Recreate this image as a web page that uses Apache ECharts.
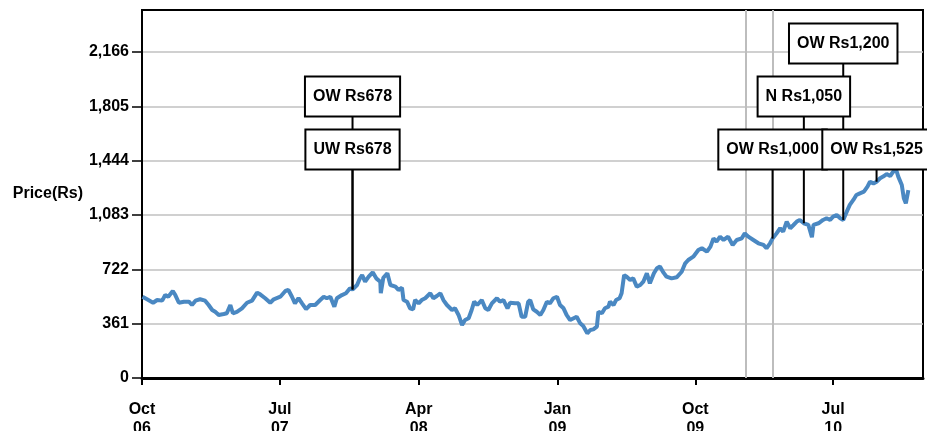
<!DOCTYPE html>
<html><head><meta charset="utf-8">
<script src="https://cdn.jsdelivr.net/npm/echarts@6/dist/echarts.min.js"></script>
<style>html,body{margin:0;padding:0;background:#fff}#c{width:927px;height:431px}</style>
</head><body><div id="c"></div>
<script>
const priceDates = [
'2006-10-02','2006-10-11','2006-10-23','2006-10-31','2006-11-10','2006-11-16','2006-11-22','2006-12-01','2006-12-06','2006-12-13','2006-12-23',
'2007-01-02','2007-01-08','2007-01-15','2007-01-24','2007-02-03','2007-02-10','2007-02-17','2007-02-23','2007-03-02','2007-03-12','2007-03-18','2007-03-25','2007-03-30',
'2007-04-07','2007-04-17','2007-04-27','2007-05-07','2007-05-17','2007-05-23','2007-06-02','2007-06-12','2007-06-19','2007-06-22','2007-07-02','2007-07-12','2007-07-18',
'2007-07-25','2007-07-31','2007-08-07','2007-08-14','2007-08-22','2007-08-30','2007-09-09','2007-09-19','2007-09-26','2007-10-02','2007-10-09','2007-10-17','2007-10-22',
'2007-11-01','2007-11-09','2007-11-17','2007-11-22','2007-12-01','2007-12-06','2007-12-11','2007-12-17','2007-12-24','2008-01-01','2008-01-08','2008-01-16','2008-01-17',
'2008-01-22','2008-01-30','2008-02-05','2008-02-15','2008-02-21','2008-02-28','2008-03-02','2008-03-09','2008-03-15','2008-03-21','2008-03-25','2008-04-01','2008-04-07',
'2008-04-14','2008-04-24','2008-04-30','2008-05-07','2008-05-14','2008-05-20','2008-05-27','2008-06-06','2008-06-12','2008-06-19','2008-06-26','2008-07-02','2008-07-09',
'2008-07-15','2008-07-20','2008-07-26','2008-08-04','2008-08-11','2008-08-17','2008-08-24','2008-09-03','2008-09-09','2008-09-16','2008-09-24','2008-09-29','2008-10-09',
'2008-10-16','2008-10-22','2008-10-29','2008-11-04','2008-11-08','2008-11-14','2008-11-21','2008-11-28','2008-12-04','2008-12-11','2008-12-17','2008-12-24','2008-12-31',
'2009-01-06','2009-01-13','2009-01-19','2009-01-26','2009-02-02','2009-02-08','2009-02-15','2009-02-21','2009-03-01','2009-03-07','2009-03-13','2009-03-20','2009-03-23',
'2009-03-30','2009-04-05','2009-04-12','2009-04-15','2009-04-22','2009-04-27','2009-05-04','2009-05-08','2009-05-13','2009-05-18','2009-05-25','2009-05-31','2009-06-07',
'2009-06-14','2009-06-20','2009-06-27','2009-07-03','2009-07-11','2009-07-17','2009-07-23','2009-07-30','2009-08-05','2009-08-15','2009-08-25','2009-09-04','2009-09-11',
'2009-09-17','2009-09-27','2009-10-07','2009-10-14','2009-10-24','2009-10-31','2009-11-06','2009-11-12','2009-11-19','2009-11-26','2009-12-05','2009-12-14','2009-12-22',
'2010-01-01','2010-01-07','2010-01-14','2010-01-24','2010-02-03','2010-02-13','2010-02-19','2010-02-26','2010-03-03','2010-03-11','2010-03-18','2010-03-24','2010-03-31',
'2010-04-07','2010-04-13','2010-04-20','2010-04-26','2010-05-04','2010-05-13','2010-05-20','2010-05-23','2010-06-02','2010-06-11','2010-06-18','2010-06-25','2010-07-01',
'2010-07-08','2010-07-15','2010-07-21','2010-07-28','2010-08-03','2010-08-10','2010-08-16','2010-08-23','2010-08-31','2010-09-07','2010-09-12','2010-09-19','2010-09-25',
'2010-10-02','2010-10-08','2010-10-15','2010-10-22','2010-10-28','2010-11-03','2010-11-07','2010-11-14','2010-11-18','2010-11-22','2010-11-27'
];
const priceValues = [
540,523,500,518,514,551,540,578,551,500,507,
507,485,514,523,514,485,452,440,419,425,430,485,430,
440,463,500,514,567,556,530,500,523,530,540,578,585,
540,496,530,496,458,485,485,518,540,530,540,474,530,
551,563,596,588,618,658,684,640,673,702,662,640,563,
666,696,618,607,585,600,518,507,463,456,518,496,518,
530,563,530,545,563,518,485,452,463,419,352,385,397,
452,507,485,518,463,452,496,530,507,518,463,500,496,
496,407,407,507,518,456,440,419,452,507,496,530,540,
485,463,419,385,397,407,363,345,297,319,323,341,440,
430,463,474,507,485,518,530,563,684,673,651,662,607,
618,640,696,629,696,729,740,700,673,662,669,706,762,
784,806,850,862,839,873,928,906,939,917,939,884,917,
928,961,939,917,895,884,862,895,926,961,995,972,1039,
995,1015,1039,1050,1028,1017,935,1017,1028,1050,1061,1050,1072,
1083,1061,1050,1105,1150,1183,1216,1227,1238,1271,1304,1293,1304,
1327,1338,1355,1342,1371,1382,1338,1282,1194,1161,1249
];
const annoDates = ['2007-11-22','2007-11-22','2010-03-03','2010-05-04','2010-07-21','2010-09-25'];
const annoPrices = [588,588,926,1028,1050,1304];
const annoLabels = ['UW Rs678','OW Rs678','OW Rs1,000','N Rs1,050','OW Rs1,200','OW Rs1,525'];
const xTickDates = ['2006-10-01','2007-07-01','2008-04-01','2009-01-01','2009-10-01','2010-07-01'];
const xTickLabels = ['Oct\n06','Jul\n07','Apr\n08','Jan\n09','Oct\n09','Jul\n10'];
const yTicks = [0,361,722,1083,1444,1805,2166];
const markerDates = ['2010-01-09','2010-03-03'];
const xRange = ['2006-10-01','2010-12-26'];
const yMax = 2445;
const yAxisName = 'Price(Rs)';

function ts(s){ return new Date(+s.slice(0,4), +s.slice(5,7)-1, +s.slice(8,10)).getTime(); }
const FONT = '"Liberation Sans", Arial, Helvetica, sans-serif';
const BOXFONT = 'bold 16px ' + FONT;
const measure = document.createElement('canvas').getContext('2d');
measure.font = BOXFONT;
const PADX = 7, LEVEL_GAP = 53, BASE_OFF = 139.5;

function computeLevels(api){
  const placed = [];
  return annoDates.map((d,i)=>{
    const cx = api.coord([ts(d), 0])[0];
    const w = measure.measureText(annoLabels[i]).width + 2*PADX;
    const l = cx - w/2, r = cx + w/2;
    let level = 0;
    while (placed.some(p => p.lv === level && l < p.r - 3 && r > p.l + 3)) level++;
    placed.push({l:l, r:r, lv:level});
    return level;
  });
}
const annoData = annoDates.map((d,i)=>[ts(d), annoPrices[i], i]);
const xTickTs = xTickDates.map(ts);

const chart = echarts.init(document.getElementById('c'));
chart.setOption({
  animation: false,
  backgroundColor: '#fff',
  grid: {left:142, right:4, top:10, bottom:53, containLabel:false, outerBoundsMode:'none',
    show:true, borderColor:'#000', borderWidth:2, backgroundColor:'transparent'},
  xAxis: {
    type:'value', min: ts(xRange[0]), max: ts(xRange[1]), scale:true,
    axisLine:{show:true, onZero:false, lineStyle:{color:'#000', width:3}},
    axisTick:{show:true, length:7, lineStyle:{color:'#000', width:2}, customValues: xTickTs},
    axisLabel:{customValues: xTickTs, color:'#000', fontSize:16, fontWeight:'bold', fontFamily:FONT, lineHeight:19, margin:22,
      formatter: v => { let b=0; for(let i=1;i<xTickTs.length;i++){ if(Math.abs(xTickTs[i]-v)<Math.abs(xTickTs[b]-v)) b=i; } return xTickLabels[b]; }},
    splitLine:{show:false}
  },
  yAxis: {
    type:'value', min:0, max:yMax, interval:361,
    name: yAxisName, nameLocation:'middle', nameRotate:0, nameGap:59,
    nameTextStyle:{color:'#000', fontSize:16, fontWeight:'bold', fontFamily:FONT, padding:[8,0,0,0]},
    axisLine:{show:true, lineStyle:{color:'#000', width:2}},
    axisTick:{show:true, length:10, lineStyle:{color:'#000', width:1.5}, customValues: yTicks},
    axisLabel:{customValues: yTicks, color:'#000', fontSize:16, fontWeight:'bold', fontFamily:FONT, margin:13,
      formatter: v => Number(v).toLocaleString('en-US')},
    splitLine:{show:true, lineStyle:{color:'#c0c0c0', width:1.5}}
  },
  series: [
    {
      type:'line', z:3, showSymbol:false, symbol:'none',
      data: priceDates.map((d,i)=>[ts(d), priceValues[i]]),
      lineStyle:{color:'#4a88c2', width:4},
      markLine:{silent:true, symbol:['none','none'], label:{show:false}, z:2,
        lineStyle:{color:'#bdbdbd', width:2, type:'solid'},
        data: markerDates.map(d=>({xAxis: ts(d)}))}
    },
    {
      type:'custom', z:4, silent:true, data: annoData,
      renderItem:(params, api)=>{
        const levels = computeLevels(api);
        const i = api.value(2);
        const p = api.coord([api.value(0), api.value(1)]);
        const cy = params.coordSys.y + BASE_OFF - LEVEL_GAP*levels[i];
        return {type:'line', shape:{x1:p[0], y1:cy, x2:p[0], y2:p[1]}, style:{stroke:'#000', lineWidth:2}};
      }
    },
    {
      type:'custom', z:5, silent:true, data: annoData,
      renderItem:(params, api)=>{
        const levels = computeLevels(api);
        const i = api.value(2);
        const p = api.coord([api.value(0), api.value(1)]);
        const cy = params.coordSys.y + BASE_OFF - LEVEL_GAP*levels[i];
        return {type:'text', x:p[0], y:cy, style:{text:annoLabels[i], font:BOXFONT, fill:'#000', align:'center', verticalAlign:'middle',
          backgroundColor:'#fff', borderColor:'#000', borderWidth:2, padding:[10,PADX], lineHeight:18}};
      }
    }
  ]
});
</script></body></html>
